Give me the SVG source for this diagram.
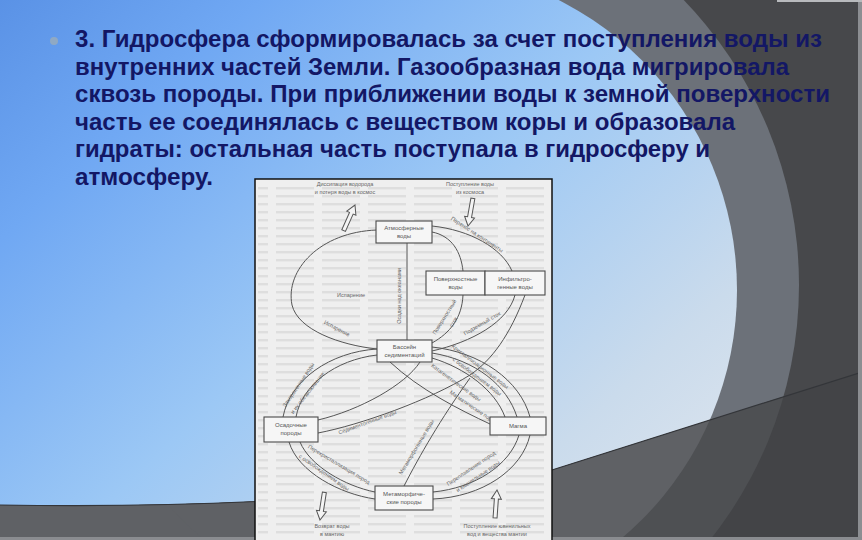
<svg xmlns="http://www.w3.org/2000/svg" width="862" height="540" viewBox="0 0 862 540">
<defs>
  <linearGradient id="sky" gradientUnits="userSpaceOnUse" x1="0" y1="0" x2="600" y2="650">
    <stop offset="0" stop-color="#5a92e6"/>
    <stop offset="0.2" stop-color="#70a8f3"/>
    <stop offset="0.5" stop-color="#9cc8f5"/>
    <stop offset="0.8" stop-color="#cadbec"/>
    <stop offset="1" stop-color="#e0e6ee"/>
  </linearGradient>
  <clipPath id="bottomClip">
    <path d="M0,505 C200,508 380,500 552,470 L862,372 L862,540 L0,540 Z"/>
  </clipPath>
  <pattern id="bleed" patternUnits="userSpaceOnUse" width="46" height="8">
    <rect x="0" y="3" width="38" height="2.4" fill="#dedede"/>
  </pattern>
  <path id="harrow" d="M0,0 L5,9 L2,9 L2,28 L-2,28 L-2,9 L-5,9 Z"/>
</defs>
<style>
  .title{font-family:"Liberation Sans",Arial,sans-serif;font-weight:bold;font-size:23px;fill:#131765}
  .box{fill:#f6f6f6;stroke:#4a4a4a;stroke-width:1.1}
  .bt{font-family:"Liberation Sans",Arial,sans-serif;font-size:6px;fill:#555;text-anchor:middle}
  .lbl{font-family:"Liberation Sans",Arial,sans-serif;font-size:5.5px;fill:#666;text-anchor:middle}
  .conn{fill:none;stroke:#555;stroke-width:1}
  .ha{fill:#f4f4f4;stroke:#555;stroke-width:1}
</style>

<!-- slide background -->
<g id="background">
  <rect width="862" height="540" fill="#47484b"/>
  <circle cx="389" cy="285" r="410" fill="#6c7179"/>
  <rect x="0" y="0" width="412" height="540" fill="url(#sky)"/>
  <circle cx="412" cy="290" r="325" fill="url(#sky)"/>
  <g clip-path="url(#bottomClip)">
    <rect width="862" height="540" fill="#434447"/>
    <circle cx="389" cy="285" r="410" fill="#4e5053"/>
    <rect x="0" y="0" width="412" height="540" fill="#5f6165"/>
    <circle cx="412" cy="290" r="325" fill="#5f6165"/>
  </g>
  <path d="M0,505 C200,508 380,500 552,470 L862,372" fill="none" stroke="#34363a" stroke-width="1.2"/>
  <rect x="858" y="0" width="4" height="540" fill="#8c8e92"/>
  <rect x="777" y="0" width="85" height="2" fill="#b8babd"/>
  <rect x="0" y="537" width="862" height="3" fill="#8a8c90"/>
</g>

<!-- heading text -->
<g id="heading">
  <circle cx="54" cy="41" r="4" fill="#8fa9c4"/>
  <text class="title" x="75" y="47" textLength="747" lengthAdjust="spacingAndGlyphs">3. Гидросфера сформировалась за счет поступления воды из</text>
  <text class="title" x="75" y="74.5" textLength="714" lengthAdjust="spacingAndGlyphs">внутренних частей Земли. Газообразная вода мигрировала</text>
  <text class="title" x="75" y="102" textLength="755" lengthAdjust="spacingAndGlyphs">сквозь породы. При приближении воды к земной поверхности</text>
  <text class="title" x="75" y="129.5" textLength="660" lengthAdjust="spacingAndGlyphs">часть ее соединялась с веществом коры и образовала</text>
  <text class="title" x="75" y="157" textLength="635" lengthAdjust="spacingAndGlyphs">гидраты: остальная часть поступала в гидросферу и</text>
  <text class="title" x="75" y="184.5" textLength="138" lengthAdjust="spacingAndGlyphs">атмосферу.</text>
</g>

<!-- scanned figure frame -->
<g id="figure-frame">
  <rect x="255" y="179" width="297" height="362" fill="#efefef" stroke="#111" stroke-width="1.5"/>
  <rect x="258" y="182" width="291" height="356" fill="url(#bleed)"/>
</g>

<!-- connectors -->
<g id="connectors">
  <!-- upper loop -->
  <path class="conn" d="M377,230 C320,232 285,270 292,305 C298,330 340,345 377,349"/>
  <path class="conn" d="M407,243 L407,340"/>
  <path class="conn" d="M432,232 C452,236 461,252 463,271"/>
  <path class="conn" d="M432,226 C470,230 502,248 512,271"/>
  <path class="conn" d="M463,295 C462,318 450,333 432,343"/>
  <path class="conn" d="M515,295 C508,322 472,342 432,351"/>
  <!-- crossings -->
  <path class="conn" d="M390,362 C420,390 460,410 490,424"/>
  <path class="conn" d="M420,362 C405,385 360,410 318,420"/>
  <path class="conn" d="M318,433 C360,425 430,400 470,375 C492,360 510,335 525,295"/>
  <path class="conn" d="M404,486 C420,455 440,420 470,378"/>
  <!-- right arcs basin - magma -->
  <path class="conn" d="M432,347 C480,352 520,380 530,417"/>
  <path class="conn" d="M432,353 C475,360 507,385 517,417"/>
  <path class="conn" d="M432,358 C465,368 495,390 505,417"/>
  <!-- left arcs basin - sedimentary -->
  <path class="conn" d="M377,349 C330,352 290,380 283,417"/>
  <path class="conn" d="M377,355 C335,360 302,385 296,417"/>
  <!-- lower left -->
  <path class="conn" d="M289,442 C298,472 340,494 375,499"/>
  <path class="conn" d="M300,442 C310,466 345,486 375,492"/>
  <!-- lower right -->
  <path class="conn" d="M433,499 C482,497 522,470 530,435"/>
  <path class="conn" d="M433,492 C475,488 510,465 519,435"/>
  <!-- hollow arrows -->
  <use href="#harrow" class="ha" transform="translate(355,205) rotate(24)"/>
  <use href="#harrow" class="ha" transform="translate(468,226) rotate(190)"/>
  <use href="#harrow" class="ha" transform="translate(320,520) rotate(189)"/>
  <use href="#harrow" class="ha" transform="translate(497,490) rotate(4)"/>
</g>

<!-- connector labels -->
<g id="labels">
  <text class="lbl" x="345" y="186">Диссипация водорода</text>
  <text class="lbl" x="345" y="194">и потеря воды в космос</text>
  <text class="lbl" x="470" y="186">Поступление воды</text>
  <text class="lbl" x="470" y="194">из космоса</text>
  <text class="lbl" transform="translate(476,236) rotate(33)">Перенос на континенты</text>
  <text class="lbl" x="351" y="297">Испарение</text>
  <text class="lbl" transform="translate(336,330) rotate(28)">Испарение</text>
  <text class="lbl" transform="translate(401,296) rotate(-90)">Осадки над океанами</text>
  <text class="lbl" transform="translate(446,318) rotate(-58)">Поверхностный</text>
  <text class="lbl" transform="translate(455,323) rotate(-58)">сток</text>
  <text class="lbl" transform="translate(483,325) rotate(-30)">Подземный сток</text>
  <text class="lbl" transform="translate(300,386) rotate(-56)">Захороненные воды</text>
  <text class="lbl" transform="translate(309,394) rotate(-52)">и их обезвоживание</text>
  <text class="lbl" transform="translate(479,368) rotate(37)">Кристаллизационные воды</text>
  <text class="lbl" transform="translate(476,378) rotate(37)">с освобождением воды</text>
  <text class="lbl" transform="translate(455,384) rotate(36)">Катагенетические воды</text>
  <text class="lbl" transform="translate(474,410) rotate(34)">Магматические породы</text>
  <text class="lbl" transform="translate(368,424) rotate(-20)">Седиментогенные воды</text>
  <text class="lbl" transform="translate(418,448) rotate(-59)">Метаморфогенные воды</text>
  <text class="lbl" transform="translate(338,466) rotate(31)">Перекристаллизация пород</text>
  <text class="lbl" transform="translate(323,474) rotate(35)">с освобождением воды</text>
  <text class="lbl" transform="translate(472,470) rotate(-34)">Переплавление пород</text>
  <text class="lbl" transform="translate(479,478) rotate(-34)">и ювенильные воды</text>
  <text class="lbl" x="332" y="528">Возврат воды</text>
  <text class="lbl" x="332" y="536">в мантию</text>
  <text class="lbl" x="497" y="528">Поступление ювенильных</text>
  <text class="lbl" x="497" y="536">вод и вещества мантии</text>
</g>

<!-- nodes -->
<g id="atm">
  <rect class="box" x="376" y="221" width="56" height="22"/>
  <text class="bt" x="404" y="230">Атмосферные</text>
  <text class="bt" x="404" y="238">воды</text>
</g>
<g id="surface">
  <rect class="box" x="426" y="271" width="59" height="24"/>
  <text class="bt" x="455.5" y="281">Поверхностные</text>
  <text class="bt" x="455.5" y="289">воды</text>
</g>
<g id="infil">
  <rect class="box" x="485" y="271" width="60" height="24"/>
  <text class="bt" x="515" y="281">Инфильтро-</text>
  <text class="bt" x="515" y="289">генные воды</text>
</g>
<g id="basin">
  <rect class="box" x="377" y="340" width="55" height="22"/>
  <text class="bt" x="404.5" y="349">Бассейн</text>
  <text class="bt" x="404.5" y="357">седиментаций</text>
</g>
<g id="sedimentary">
  <rect class="box" x="264" y="417" width="54" height="25"/>
  <text class="bt" x="291" y="427">Осадочные</text>
  <text class="bt" x="291" y="435">породы</text>
</g>
<g id="magma">
  <rect class="box" x="490" y="417" width="56" height="18"/>
  <text class="bt" x="518" y="428">Магма</text>
</g>
<g id="metamorphic">
  <rect class="box" x="375" y="486" width="58" height="24"/>
  <text class="bt" x="404" y="496">Метаморфиче-</text>
  <text class="bt" x="404" y="504">ские породы</text>
</g>
</svg>
